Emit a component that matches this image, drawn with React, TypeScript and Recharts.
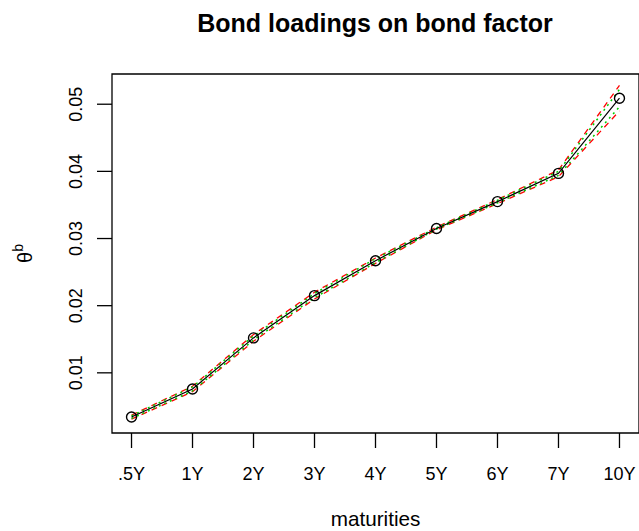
import React from 'react';
import {
  LineChart,
  Line,
  XAxis,
  YAxis,
  ReferenceArea,
  Label
} from 'recharts';

const maturities = ['.5Y', '1Y', '2Y', '3Y', '4Y', '5Y', '6Y', '7Y', '10Y'];
const loading = [0.00343, 0.0076, 0.0152, 0.0215, 0.0267, 0.0315, 0.0355, 0.0397, 0.0509];
const redUpper = [0.0037, 0.008, 0.0157, 0.022, 0.0271, 0.0317, 0.0358, 0.0402, 0.0528];
const redLower = [0.0031, 0.0072, 0.0147, 0.021, 0.0263, 0.0313, 0.0352, 0.0392, 0.049];
const greenUpper = [0.0036, 0.0079, 0.0155, 0.0218, 0.027, 0.0316, 0.0357, 0.04, 0.0522];
const greenLower = [0.0032, 0.0073, 0.0149, 0.0212, 0.0264, 0.0314, 0.0353, 0.0394, 0.0496];
const yTicks = [0.01, 0.02, 0.03, 0.04, 0.05];

const data = maturities.map((m, i) => ({
  pos: i + 1,
  loading: loading[i],
  redUpper: redUpper[i],
  redLower: redLower[i],
  greenUpper: greenUpper[i],
  greenLower: greenLower[i]
}));

const FONT = '"Liberation Sans", Arial, Helvetica, sans-serif';
const X_DOMAIN: [number, number] = [0.68, 9.32];
const Y_DOMAIN: [number, number] = [0.00104, 0.0545];

const XTick = (props: any) => {
  const { x, y, payload } = props;
  return (
    <text x={x} y={y} textAnchor="middle" fontSize={18} fontFamily={FONT} fill="#000">
      {maturities[payload.value - 1]}
    </text>
  );
};

const YTick = (props: any) => {
  const { x, y, payload } = props;
  return (
    <text
      x={x}
      y={y}
      transform={`rotate(-90 ${x} ${y})`}
      textAnchor="middle"
      fontSize={18}
      fontFamily={FONT}
      fill="#000"
    >
      {payload.value.toFixed(2)}
    </text>
  );
};

const YLabel = (props: any) => {
  const { viewBox } = props;
  const x = viewBox.x + 32;
  const y = viewBox.y + viewBox.height / 2;
  return (
    <text
      x={x}
      y={y}
      transform={`rotate(-90 ${x} ${y})`}
      textAnchor="middle"
      fontSize={20}
      fontFamily={FONT}
      fill="#000"
    >
      θ
      <tspan fontSize={14} dy={-9}>b</tspan>
    </text>
  );
};

export default function App() {
  return (
    <div style={{ position: 'absolute', left: 0, top: 0, width: 639, height: 531, background: '#fff' }}>
      <LineChart
        width={639}
        height={531}
        data={data}
        margin={{ top: 74, right: 0, bottom: 0, left: 0 }}
      >
        <XAxis
          type="number"
          dataKey="pos"
          domain={X_DOMAIN}
          ticks={[1, 2, 3, 4, 5, 6, 7, 8, 9]}
          interval={0}
          height={98}
          axisLine={false}
          tickSize={15}
          tickMargin={32}
          tickLine={{ stroke: '#000', strokeWidth: 1.3 }}
          tick={<XTick />}
          allowDataOverflow
        >
          <Label
            value="maturities"
            position="insideBottom"
            offset={5}
            fontSize={20.7}
            fontFamily={FONT}
            fill="#000"
          />
        </XAxis>
        <YAxis
          type="number"
          domain={Y_DOMAIN}
          ticks={yTicks}
          width={112}
          axisLine={false}
          tickSize={15}
          tickMargin={15}
          tickLine={{ stroke: '#000', strokeWidth: 1.3 }}
          tick={<YTick />}
          allowDataOverflow
        >
          <Label content={<YLabel />} />
        </YAxis>
        <ReferenceArea
          x1={X_DOMAIN[0]}
          x2={X_DOMAIN[1]}
          y1={Y_DOMAIN[0]}
          y2={Y_DOMAIN[1]}
          fill="none"
          fillOpacity={0}
          stroke="#000"
          strokeWidth={1.3}
          ifOverflow="visible"
        />
        <Line
          dataKey="redUpper"
          stroke="#ff0000"
          strokeWidth={1.3}
          strokeDasharray="6 5"
          dot={false}
          isAnimationActive={false}
        />
        <Line
          dataKey="redLower"
          stroke="#ff0000"
          strokeWidth={1.3}
          strokeDasharray="6 5"
          dot={false}
          isAnimationActive={false}
        />
        <Line
          dataKey="greenUpper"
          stroke="#00cd00"
          strokeWidth={1.5}
          strokeDasharray="2 4"
          dot={false}
          isAnimationActive={false}
        />
        <Line
          dataKey="greenLower"
          stroke="#00cd00"
          strokeWidth={1.5}
          strokeDasharray="2 4"
          dot={false}
          isAnimationActive={false}
        />
        <Line
          dataKey="loading"
          stroke="#000"
          strokeWidth={1.2}
          dot={{ r: 5, fill: 'none', stroke: '#000', strokeWidth: 1.4 }}
          isAnimationActive={false}
        />
      </LineChart>
      <svg
        width={639}
        height={60}
        style={{ position: 'absolute', left: 0, top: 0, pointerEvents: 'none' }}
      >
        <text
          x={375}
          y={32}
          textAnchor="middle"
          fontSize={25}
          fontWeight="bold"
          fontFamily={FONT}
          fill="#000"
        >
          Bond loadings on bond factor
        </text>
      </svg>
    </div>
  );
}
